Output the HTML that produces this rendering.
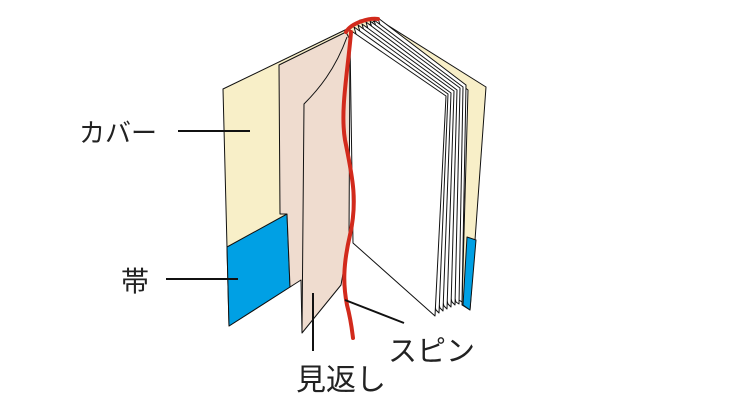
<!DOCTYPE html>
<html><head><meta charset="utf-8"><style>
html,body{margin:0;padding:0;background:#fff;width:736px;height:400px;overflow:hidden}
svg{display:block}
text{font-family:"Liberation Sans","Noto Sans CJK JP",sans-serif;fill:#222}
</style></head><body>
<svg width="736" height="400" viewBox="0 0 736 400" xmlns="http://www.w3.org/2000/svg">
<g stroke="#111" stroke-width="1" stroke-linejoin="round">
<!-- right cover -->
<polygon points="376,18 486,87 470,310 462,305 468,90" fill="#f8efc8"/>
<polygon points="467,237 476,240 470,310 463,305" fill="#00a0e4"/>
<!-- left cover -->
<polygon points="223,89 345,30 360,20 378,18 350,40 300,280 290,287 229,326" fill="#f8efc8"/>
<polygon points="227,247 287,214 290,287 229,326" fill="#00a0e4"/>
<!-- pages -->
<g fill="#fff">
<polygon points="378,18 466,85 462,302 459,300" />
<polygon points="374,20 463,87 459,304 456,302"/>
<polygon points="370,21 460,88 455,305 452,302"/>
<polygon points="366,22 457,90 451,307 448,304"/>
<polygon points="362,24 454,91 447,309 444,306"/>
<polygon points="358,25 451,93 443,311 440,308"/>
<polygon points="354,27 448,94 439,313 436,310"/>
<polygon points="350,30 446,96 435,316 353,243 350,40"/>
</g>
<!-- endpaper -->
<polygon points="279,65 346,32 350,40 349,240 341,285 302,333 301,280 290,287 287,214 280,214" fill="#efdccf"/>
<path d="M347,37 C335,70 318,90 304,104 L302,333" fill="none"/>
</g>
<!-- ribbon -->
<path d="M346,32 C352,22 370,18 378,19" fill="none" stroke="#d22a1c" stroke-width="4" stroke-linecap="round"/>
<path d="M351,32 C348,70 340,110 345,140 C352,175 358,200 350,235 C343,265 343,285 347,305 C351,320 352,330 353,338" fill="none" stroke="#d22a1c" stroke-width="4" stroke-linecap="round"/>
<!-- leader lines -->
<g stroke="#111" stroke-width="2">
<line x1="178" y1="131" x2="250" y2="131"/>
<line x1="166" y1="279" x2="238" y2="279"/>
<line x1="313" y1="293" x2="313" y2="351"/>
<line x1="345" y1="300" x2="404" y2="323"/>
</g>
<text x="79" y="142" font-size="26">カバー</text>
<text x="121" y="291" font-size="28">帯</text>
<text x="296" y="390" font-size="30">見返し</text>
<text x="388" y="361" font-size="29">スピン</text>
</svg>
</body></html>
